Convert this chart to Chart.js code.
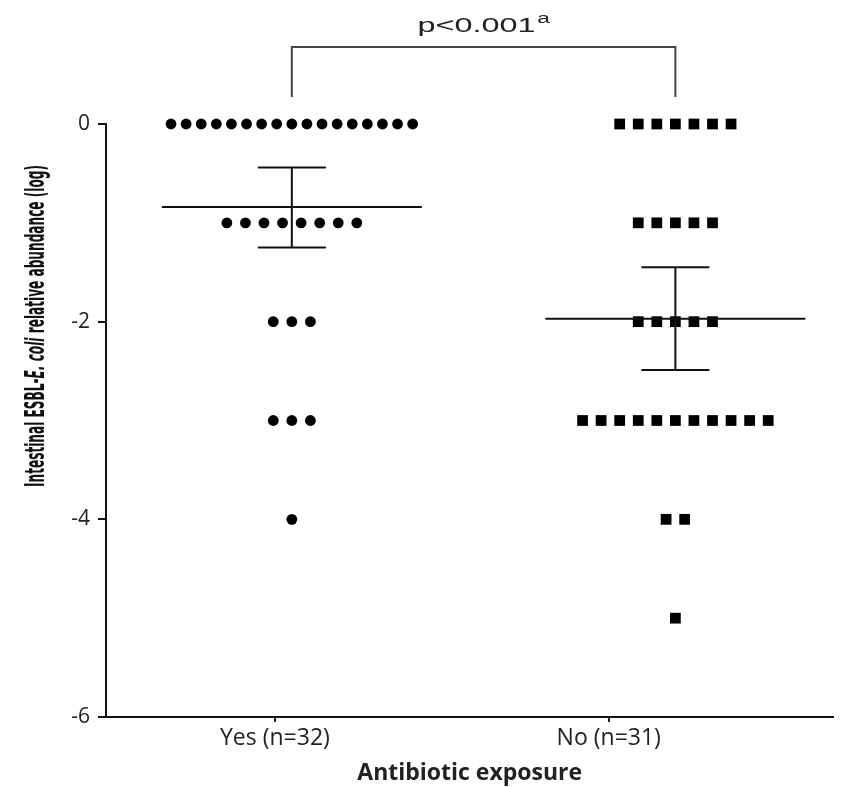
<!DOCTYPE html>
<html>
<head>
<meta charset="utf-8">
<script src="https://cdn.jsdelivr.net/npm/chart.js@4"></script>
<style>
  body { margin: 0; background: #fff; }
  #wrap { width: 841px; height: 787px; position: relative; }
</style>
</head>
<body>
<div id="wrap"><canvas id="chart"></canvas></div>
<script>
"use strict";

// data
const groupLabels = ["Yes (n=32)", "No (n=31)"];
const yesLevels = [0, -1, -2, -3, -4];
const yesCounts = [17, 8, 3, 3, 1];
const noLevels = [0, -1, -2, -3, -4, -5];
const noCounts = [7, 5, 5, 11, 2, 1];
const means = [-0.84, -1.97];
const semHigh = [-0.44, -1.45];
const semLow = [-1.25, -2.49];
const yTicks = [0, -2, -4, -6];
const pLabel = "p<0.001";
const pSup = "a";

// column spread (units of the hidden data axis)
const STEP = 0.0484;
const MAXW = 0.63;

function columnPoints(centre, levels, counts) {
  const pts = [];
  for (let i = 0; i < levels.length; i++) {
    const n = counts[i];
    const step = n > 1 ? Math.min(STEP, MAXW / (n - 1)) : 0;
    for (let j = 0; j < n; j++) {
      pts.push({ x: centre + (j - (n - 1) / 2) * step, y: levels[i] });
    }
  }
  return pts;
}

// mean + SEM bars, drawn over the points
const meanBars = {
  id: "meanBars",
  afterDatasetsDraw(chart) {
    const ctx = chart.ctx;
    const xs = chart.scales.xd;
    const ys = chart.scales.y;
    ctx.save();
    ctx.strokeStyle = "#111";
    ctx.lineWidth = 2;
    for (let i = 0; i < means.length; i++) {
      const cx = xs.getPixelForValue(i + 1);
      const ym = ys.getPixelForValue(means[i]);
      const yh = ys.getPixelForValue(semHigh[i]);
      const yl = ys.getPixelForValue(semLow[i]);
      ctx.beginPath();
      ctx.moveTo(cx - 130, ym); ctx.lineTo(cx + 130, ym);
      ctx.moveTo(cx, yh); ctx.lineTo(cx, yl);
      ctx.moveTo(cx - 34, yh); ctx.lineTo(cx + 34, yh);
      ctx.moveTo(cx - 34, yl); ctx.lineTo(cx + 34, yl);
      ctx.stroke();
    }
    ctx.restore();
  },
  afterDraw(chart) {
    const ctx = chart.ctx;
    const xs = chart.scales.xd;
    const x1 = xs.getPixelForValue(1);
    const x2 = xs.getPixelForValue(2);
    ctx.save();
    // significance bracket
    ctx.strokeStyle = "#444";
    ctx.lineWidth = 2;
    ctx.beginPath();
    ctx.moveTo(x1, 97); ctx.lineTo(x1, 47); ctx.lineTo(x2, 47); ctx.lineTo(x2, 97);
    ctx.stroke();

    // p label, wide like the original
    const pf = "Arial, 'Open Sans', sans-serif";
    ctx.fillStyle = "#222";
    ctx.textBaseline = "alphabetic";
    ctx.font = "20px " + pf;
    const w1 = ctx.measureText(pLabel).width;
    const kp = 118 / w1;
    ctx.save();
    ctx.translate((x1 + x2) / 2 - 66, 32);
    ctx.scale(kp, 1);
    ctx.fillText(pLabel, 0, 0);
    ctx.font = "14px " + pf;
    ctx.fillText(pSup, w1 + 1, -9);
    ctx.restore();

    // y axis title with italic species name
    const parts = [
      { t: "Intestinal ESBL-", it: false },
      { t: "E. coli", it: true },
      { t: " relative abundance (log)", it: false },
    ];
    const fam = "'Liberation Sans Narrow', 'DejaVu Sans Condensed', Arial, sans-serif";
    let total = 0;
    for (const p of parts) {
      ctx.font = (p.it ? "italic " : "") + "bold 27px " + fam;
      p.w = ctx.measureText(p.t).width;
      total += p.w;
    }
    const k = 322 / total;
    ctx.translate(37, 326);
    ctx.rotate(-Math.PI / 2);
    ctx.scale(k, 1);
    ctx.textBaseline = "middle";
    ctx.fillStyle = "#111";
    let tx = -total / 2;
    for (const p of parts) {
      ctx.font = (p.it ? "italic " : "") + "bold 27px " + fam;
      ctx.fillText(p.t, tx, 0);
      tx += p.w;
    }
    ctx.restore();
  },
};

const ctx = document.getElementById("chart");
const chart = new Chart(ctx, {
  type: "scatter",
  data: {
    datasets: [
      {
        label: "Yes",
        data: columnPoints(1, yesLevels, yesCounts),
        xAxisID: "xd",
        pointStyle: "circle",
        pointRadius: 5.4,
        pointHoverRadius: 5.4,
        backgroundColor: "#000",
        borderWidth: 0,
      },
      {
        label: "No",
        data: columnPoints(2, noLevels, noCounts),
        xAxisID: "xd",
        pointStyle: "rect",
        pointRadius: 7.6,
        pointHoverRadius: 7.6,
        backgroundColor: "#000",
        borderWidth: 0,
      },
    ],
  },
  options: {
    responsive: true,
    maintainAspectRatio: false,
    animation: false,
    clip: false,
    layout: { padding: { top: 124, left: 0, right: 3, bottom: 0 } },
    plugins: { legend: { display: false }, tooltip: { enabled: false } },
    scales: {
      x: {
        type: "linear",
        min: 0.494,
        max: 2.673,
        afterBuildTicks: (s) => { s.ticks = [{ value: 1 }, { value: 2 }]; },
        afterFit: (s) => { s.height = 70; },
        ticks: {
          callback: (v) => groupLabels[v - 1],
          color: "#222",
          padding: 3,
          font: { family: "'Open Sans', Arial, sans-serif", size: 23 },
        },
        grid: { drawOnChartArea: false, drawTicks: true, tickLength: 5, color: "#222", lineWidth: 2 },
        border: { display: true, color: "#111", width: 2 },
        title: {
          display: true,
          text: "Antibiotic exposure",
          color: "#222",
          padding: { top: 0, bottom: 0 },
          font: { family: "'Open Sans', Arial, sans-serif", size: 23, weight: "bold" },
        },
      },
      xd: {
        type: "linear",
        display: false,
        min: 0.5155,
        max: 2.412,
      },
      y: {
        min: -6,
        max: 0,
        afterBuildTicks: (s) => { s.ticks = yTicks.map((v) => ({ value: v })); },
        afterFit: (s) => { s.width = 106; },
        ticks: {
          color: "#222",
          padding: 8,
          font: { family: "'Open Sans', Arial, sans-serif", size: 21 },
        },
        grid: { drawOnChartArea: false, drawTicks: true, tickLength: 8, color: "#111", lineWidth: 2 },
        border: { display: true, color: "#111", width: 2 },
      },
    },
  },
  plugins: [meanBars],
});
</script>
</body>
</html>
